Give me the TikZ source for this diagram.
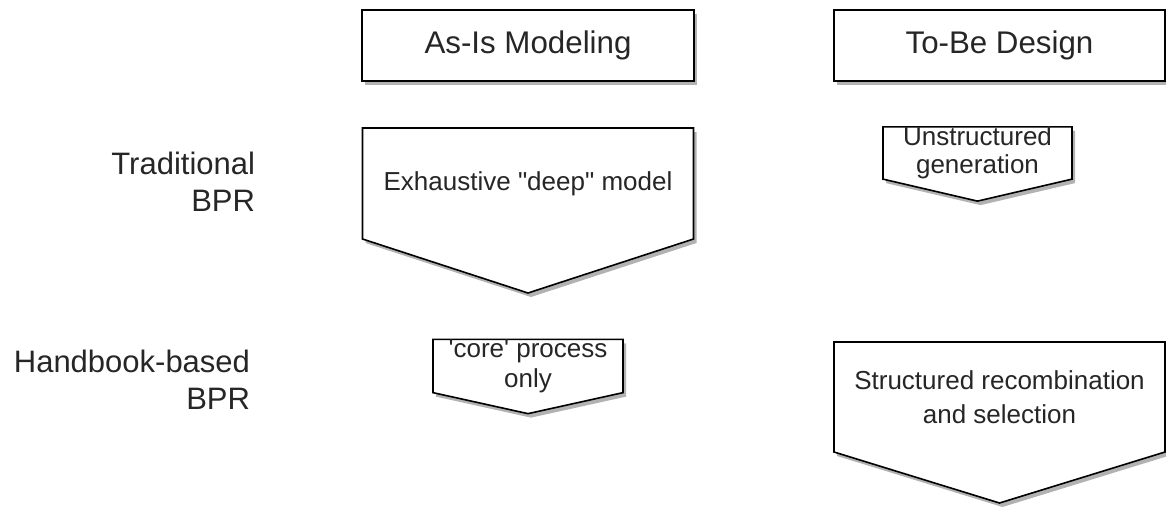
\documentclass[tikz,border=0pt]{standalone}
\usepackage{fontspec}
\setmainfont{Liberation Sans}[Ligatures=TeXOff]
\usetikzlibrary{positioning,shadows,backgrounds}

% down-pointing outline behind a stage node
\newcommand{\stageoutline}[2]{%
  \begin{scope}[on background layer]
    \draw[stageline] (#1.north west) -- (#1.north east) -- (#1.south east)
      -- ([yshift=-#2]#1.south) -- (#1.south west) -- cycle;
  \end{scope}}

\begin{document}
\begin{tikzpicture}[
    x=1pt, y=1pt,
    every node/.style={text=black!85, inner sep=0pt, outer sep=0pt},
    softshadow/.style={drop shadow={shadow xshift=3pt, shadow yshift=-4pt, opacity=0.3, fill=black}},
    header/.style={draw, line width=1.6pt, fill=white, softshadow, minimum width=332pt, minimum height=71pt, font=\fontsize{31.3}{37}\selectfont},
    stage/.style={align=center, font=\fontsize{26}{30}\selectfont},
    stageline/.style={draw, line width=1.6pt, fill=white, softshadow},
    rowlabel/.style={anchor=east, align=right, font=\fontsize{31}{37}\selectfont}
]
\useasboundingbox (0,0) rectangle (1166,-506);
\node[header] (asis) at (528,-45.5) {As-Is Modeling};
\node[header, minimum width=331pt, right=140pt of asis] (tobe) {To-Be Design};
\node[rowlabel] (trad) at (255,-181.5) {Traditional\\BPR};
\node[rowlabel] (handbook) at (250,-380) {Handbook-based\\BPR};
\node[stage, minimum width=331pt, minimum height=111pt, below=47pt of asis] (deep) {Exhaustive "deep" model};
\node[stage, minimum width=189pt, minimum height=48pt] (unstructured) at (977.5,-153) {Unstructured\\[-2pt]generation};
\node[stage, minimum width=190pt, minimum height=48pt] (core) at (528,-366) {'core' process\\only};
\node[stage, minimum width=331pt, minimum height=110pt] (structured) at (999.5,-397) {Structured recombination\\[4pt]and selection};
\stageoutline{deep}{54pt}
\stageoutline{unstructured}{22pt}
\stageoutline{core}{21pt}
\stageoutline{structured}{51pt}
\end{tikzpicture}
\end{document}
